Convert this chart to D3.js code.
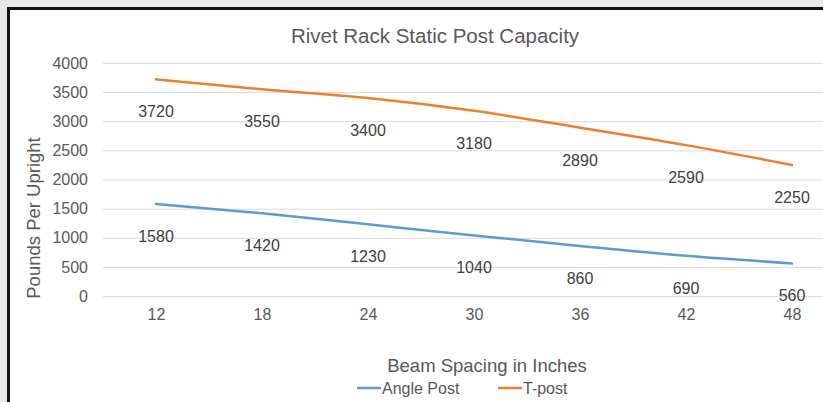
<!DOCTYPE html>
<html>
<head>
<meta charset="utf-8">
<script src="https://cdn.jsdelivr.net/npm/d3@7"></script>
<style>
  body { margin: 0; background: #e6e7e9; overflow: hidden; }
  text { font-family: "Liberation Sans", Arial, sans-serif; }
</style>
</head>
<body>
<script>
// chart data
var spacing = ["12", "18", "24", "30", "36", "42", "48"];
var anglePost = [1580, 1420, 1230, 1040, 860, 690, 560];
var tPost = [3720, 3550, 3400, 3180, 2890, 2590, 2250];
var yTicks = [0, 500, 1000, 1500, 2000, 2500, 3000, 3500, 4000];

var W = 823, H = 402;

var svg = d3.select("body").append("svg")
    .attr("width", W)
    .attr("height", H);

// white chart panel with dark frame
svg.append("rect")
    .attr("x", 8.5).attr("y", 8.5)
    .attr("width", W + 20).attr("height", H + 20)
    .attr("fill", "#fff")
    .attr("stroke", "#111")
    .attr("stroke-width", 3);

var plot = {left: 103, right: 845, top: 63, bottom: 296};

var x = d3.scalePoint()
    .domain(spacing)
    .range([plot.left, plot.right])
    .padding(0.5);

var y = d3.scaleLinear()
    .domain([0, 4000])
    .range([plot.bottom, plot.top]);

// gridlines
svg.append("g")
    .selectAll("line")
    .data(yTicks)
    .enter().append("line")
      .attr("x1", plot.left).attr("x2", plot.right)
      .attr("y1", d => y(d) + 0.5).attr("y2", d => y(d) + 0.5)
      .attr("stroke", "#d9d9d9")
      .attr("stroke-width", 1);

// y axis labels
var yAxis = svg.append("g")
    .attr("transform", "translate(" + plot.left + ",0)")
    .call(d3.axisLeft(y).tickValues(yTicks).tickFormat(d3.format("d")).tickSize(0).tickPadding(15));
yAxis.select(".domain").remove();
yAxis.selectAll("text")
    .attr("fill", "#595959")
    .style("font-size", "16px");

// x axis labels
var xAxis = svg.append("g")
    .attr("transform", "translate(0," + plot.bottom + ")")
    .call(d3.axisBottom(x).tickSize(0).tickPadding(13));
xAxis.select(".domain").remove();
xAxis.selectAll("text")
    .attr("fill", "#595959")
    .style("font-size", "16px");

// lines
var line = d3.line()
    .x((d, i) => x(spacing[i]))
    .y(d => y(d))
    .curve(d3.curveMonotoneX);

var series = [
  {name: "Angle Post", values: anglePost, color: "#5b9bd5"},
  {name: "T-post", values: tPost, color: "#ed7d31"}
];

series.forEach(function(s) {
  svg.append("path")
      .datum(s.values)
      .attr("d", line)
      .attr("fill", "none")
      .attr("stroke", s.color)
      .attr("stroke-width", 2.5)
      .attr("stroke-linecap", "round");

  // data labels below the points
  svg.append("g")
      .selectAll("text")
      .data(s.values)
      .enter().append("text")
        .attr("x", (d, i) => x(spacing[i]))
        .attr("y", d => y(d) + 38)
        .attr("text-anchor", "middle")
        .attr("fill", "#404040")
        .style("font-size", "16px")
        .text(d => d);
});

// title
svg.append("text")
    .attr("x", 435).attr("y", 43)
    .attr("text-anchor", "middle")
    .attr("fill", "#595959")
    .style("font-size", "20.5px")
    .text("Rivet Rack Static Post Capacity");

// axis titles
svg.append("text")
    .attr("transform", "translate(40,218) rotate(-90)")
    .attr("text-anchor", "middle")
    .attr("fill", "#595959")
    .style("font-size", "18.5px")
    .text("Pounds Per Upright");

svg.append("text")
    .attr("x", 487).attr("y", 372)
    .attr("text-anchor", "middle")
    .attr("fill", "#595959")
    .style("font-size", "18.5px")
    .text("Beam Spacing in Inches");

// legend
var legend = svg.append("g");
var legendX = [357, 498];
series.forEach(function(s, i) {
  legend.append("line")
      .attr("x1", legendX[i]).attr("x2", legendX[i] + 24)
      .attr("y1", 388).attr("y2", 388)
      .attr("stroke", s.color)
      .attr("stroke-width", 2.5);
  legend.append("text")
      .attr("x", legendX[i] + 25).attr("y", 394)
      .attr("fill", "#595959")
      .style("font-size", "16px")
      .text(s.name);
});
</script>
</body>
</html>
